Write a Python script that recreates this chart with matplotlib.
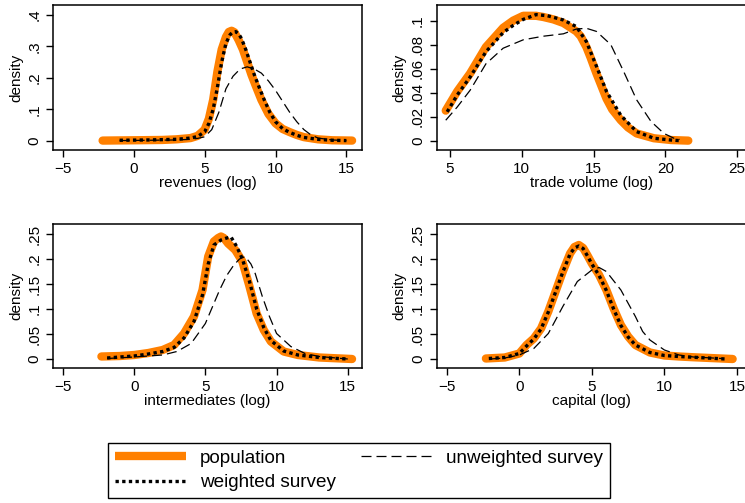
import matplotlib
matplotlib.use("Agg")
import matplotlib.pyplot as plt
from matplotlib.lines import Line2D

plt.rcParams['font.family'] = ['Liberation Sans', 'DejaVu Sans']

# ---- data ----
# revenues (log)
rev_pop_x = [-2.2, 0, 2, 3, 4, 4.5, 5, 5.3, 5.6, 5.9, 6.2, 6.5, 6.7, 6.9, 7.1, 7.4, 7.7,
             8.0, 8.3, 8.6, 9.0, 9.5, 10, 10.5, 11, 11.5, 12, 13, 14, 15.4]
rev_pop_y = [0, 0.001, 0.002, 0.004, 0.008, 0.015, 0.035, 0.07, 0.13, 0.22, 0.29, 0.33,
             0.346, 0.35, 0.345, 0.32, 0.29, 0.25, 0.21, 0.175, 0.13, 0.085, 0.055,
             0.037, 0.027, 0.018, 0.011, 0.004, 0.001, 0]
rev_w_x = [-1, 1, 3, 4, 4.5, 5, 5.3, 5.6, 5.9, 6.2, 6.5, 6.8, 7.0, 7.2, 7.4, 7.6, 7.9,
           8.2, 8.5, 8.8, 9.2, 9.6, 10, 10.5, 11, 11.5, 12, 13, 14, 15]
rev_w_y = [0.001, 0.002, 0.004, 0.008, 0.013, 0.028, 0.055, 0.1, 0.17, 0.25, 0.31, 0.338,
           0.346, 0.347, 0.34, 0.325, 0.29, 0.25, 0.21, 0.175, 0.13, 0.09, 0.06, 0.038,
           0.026, 0.017, 0.01, 0.004, 0.001, 0]
rev_u_x = [-1, 1, 3, 4, 4.5, 5, 5.5, 6, 6.5, 7, 7.5, 8, 8.5, 9, 9.5, 10, 10.5, 11,
           11.5, 12, 12.5, 13, 14, 15]
rev_u_y = [0.0, 0.001, 0.002, 0.004, 0.007, 0.012, 0.035, 0.09, 0.165, 0.205, 0.228,
           0.235, 0.228, 0.215, 0.19, 0.16, 0.125, 0.09, 0.06, 0.035, 0.018, 0.008,
           0.002, 0]

# trade volume (log)
tv_pop_x = [4.7, 5.5, 6.4, 7.5, 8.7, 9.4, 10.1, 11.0, 11.5, 12.2, 12.9, 13.8, 14.1,
            14.5, 14.8, 15.2, 15.9, 16.3, 16.9, 17.4, 18.0, 19.2, 20.4, 21.6]
tv_pop_y = [0.025, 0.041, 0.056, 0.078, 0.094, 0.1, 0.104, 0.104, 0.103, 0.101, 0.098,
            0.091, 0.087, 0.078, 0.069, 0.056, 0.035, 0.026, 0.017, 0.011, 0.006,
            0.002, 0.0005, 0]
tv_w_x = [4.8, 5.5, 6.4, 7.5, 8.7, 9.4, 10.1, 11.0, 11.8, 12.9, 13.8, 14.5, 15.2, 15.9,
          16.9, 18.0, 19.2, 20.4, 21.0]
tv_w_y = [0.024, 0.038, 0.053, 0.074, 0.090, 0.096, 0.101, 0.105, 0.104, 0.1005, 0.095,
          0.0825, 0.062, 0.041, 0.021, 0.0075, 0.002, 0.0005, 0]
tv_u_x = [4.7, 5.5, 6.4, 7.5, 8.7, 10.1, 11.5, 12.9, 13.8, 14.5, 15.2, 16.2, 17.1,
          18.0, 19.0, 19.9, 20.6, 21.0]
tv_u_y = [0.017, 0.028, 0.042, 0.064, 0.077, 0.084, 0.087, 0.089, 0.093, 0.0936, 0.091,
          0.080, 0.0575, 0.034, 0.016, 0.006, 0.002, 0.001]

# intermediates (log)
int_pop_x = [-2.3, -1, 0, 1, 2, 2.8, 3.5, 4.2, 4.8, 5.2, 5.6, 5.9, 6.1, 6.3, 6.6, 7.1,
             7.6, 8.1, 8.6, 9.1, 9.6, 10.5, 11.5, 13, 15.3]
int_pop_y = [0.005, 0.006, 0.008, 0.012, 0.018, 0.028, 0.051, 0.085, 0.138, 0.205,
             0.235, 0.242, 0.245, 0.242, 0.231, 0.218, 0.195, 0.145, 0.091, 0.058,
             0.035, 0.015, 0.008, 0.003, 0.0]
int_w_x = [-1.9, -1, 0, 1, 2, 2.8, 3.5, 4.2, 4.8, 5.2, 5.6, 6.1, 6.5, 6.8, 7.2, 7.6,
           8.1, 8.6, 9.1, 9.6, 10.5, 11.5, 13, 15]
int_w_y = [0.002, 0.004, 0.006, 0.01, 0.015, 0.023, 0.042, 0.075, 0.128, 0.19, 0.228,
           0.238, 0.242, 0.244, 0.225, 0.2, 0.155, 0.1, 0.063, 0.037, 0.016, 0.008,
           0.003, 0.0]
int_u_x = [-1.9, 0, 2, 3, 4, 5, 6, 6.5, 7, 7.4, 7.8, 8.2, 8.5, 9, 9.5, 10, 11, 12, 13, 15]
int_u_y = [0.001, 0.004, 0.008, 0.015, 0.031, 0.071, 0.138, 0.167, 0.188, 0.2, 0.205,
           0.19, 0.171, 0.125, 0.085, 0.051, 0.025, 0.011, 0.005, 0.0]

# capital (log)
cap_pop_x = [-2.3, -1, 0, 0.5, 1, 1.5, 2, 2.5, 3, 3.5, 3.8, 4.1, 4.4, 4.7, 5, 5.5, 6,
             6.5, 7, 7.5, 8, 9, 10, 11, 12, 14.7]
cap_pop_y = [0.001, 0.003, 0.011, 0.028, 0.041, 0.061, 0.095, 0.135, 0.175, 0.211,
             0.224, 0.228, 0.222, 0.207, 0.191, 0.168, 0.138, 0.101, 0.068, 0.045,
             0.028, 0.013, 0.007, 0.005, 0.0035, 0.0]
cap_w_x = [-2.1, -1, 0, 0.5, 1, 1.5, 2, 2.5, 3, 3.5, 3.8, 4.1, 4.4, 4.7, 5, 5.5, 6,
           6.5, 7, 7.5, 8, 9, 10, 11, 12, 14.2]
cap_w_y = [0.001, 0.003, 0.011, 0.026, 0.04, 0.06, 0.094, 0.134, 0.174, 0.21, 0.222,
           0.226, 0.221, 0.206, 0.19, 0.167, 0.137, 0.1, 0.067, 0.044, 0.028, 0.013,
           0.007, 0.005, 0.0035, 0.0]
cap_u_x = [-2, -1, 0, 1, 2, 3, 4, 5, 5.5, 6, 7, 8, 8.5, 9, 10, 11, 12, 14]
cap_u_y = [0.0, 0.002, 0.008, 0.021, 0.051, 0.105, 0.155, 0.178, 0.183, 0.175, 0.138,
           0.085, 0.055, 0.038, 0.018, 0.008, 0.004, 0.001]

panels = [
    ("revenues (log)", rev_pop_x, rev_pop_y, rev_w_x, rev_w_y, rev_u_x, rev_u_y,
     [-5, 0, 5, 10, 15], (-5.7, 16.1),
     [0, 0.1, 0.2, 0.3, 0.4], ["0", ".1", ".2", ".3", ".4"], (-0.03, 0.432)),
    ("trade volume (log)", tv_pop_x, tv_pop_y, tv_w_x, tv_w_y, tv_u_x, tv_u_y,
     [5, 10, 15, 20, 25], (4.07, 25.6),
     [0, 0.02, 0.04, 0.06, 0.08, 0.1], ["0", ".02", ".04", ".06", ".08", ".1"],
     (-0.0078, 0.113)),
    ("intermediates (log)", int_pop_x, int_pop_y, int_w_x, int_w_y, int_u_x, int_u_y,
     [-5, 0, 5, 10, 15], (-5.7, 16.0),
     [0, 0.05, 0.1, 0.15, 0.2, 0.25], ["0", ".05", ".1", ".15", ".2", ".25"],
     (-0.0186, 0.27)),
    ("capital (log)", cap_pop_x, cap_pop_y, cap_w_x, cap_w_y, cap_u_x, cap_u_y,
     [-5, 0, 5, 10, 15], (-5.69, 15.6),
     [0, 0.05, 0.1, 0.15, 0.2, 0.25], ["0", ".05", ".1", ".15", ".2", ".25"],
     (-0.0186, 0.27)),
]

W, H = 745, 503
fig = plt.figure(figsize=(W / 100, H / 100), dpi=100)

# axes boxes in pixels: left, top, width, height
boxes = [(53, 5, 309, 145), (436.7, 5, 309, 145),
         (53, 224, 309, 144.3), (436.7, 224, 309, 144.3)]

orange = "#ff8000"
for (lab, px, py, wx, wy, ux, uy, xt, xl, yt, ytl, yl), (l, t, w, h) in zip(panels, boxes):
    ax = fig.add_axes([l / W, 1 - (t + h) / H, w / W, h / H])
    ax.plot(px, py, color=orange, lw=6, solid_capstyle="round",
            solid_joinstyle="round", zorder=2)
    ax.plot(ux, uy, color="black", lw=0.9, linestyle=(0, (8, 4)), zorder=3)
    ax.plot(wx, wy, color="black", lw=2.4, linestyle=(0, (1, 1)),
            dash_capstyle="butt", zorder=4)
    ax.set_xlim(*xl)
    ax.set_ylim(*yl)
    ax.set_xticks(xt, labels=[str(v) if v >= 0 else "\u2212" + str(-v) for v in xt])
    ax.set_yticks(yt, labels=ytl)
    ax.tick_params(direction="out", length=5, width=1, labelsize=11, color="black")
    ax.tick_params(axis="y", labelrotation=90)
    for tl in ax.get_yticklabels():
        tl.set_va("center")
    ax.set_xlabel(lab, fontsize=11, labelpad=0)
    ax.set_ylabel("density", fontsize=11, labelpad=3)
    for s in ax.spines.values():
        s.set_linewidth(1.1)
        s.set_color("black")

handles = [
    Line2D([], [], color=orange, lw=6, solid_capstyle="butt"),
    Line2D([], [], color="black", lw=2.4, linestyle=(0, (1, 1)), dash_capstyle="butt"),
    Line2D([], [], color="black", lw=0.9, linestyle=(0, (8, 4))),
]
leg = fig.legend(handles, ["population", "weighted survey", "unweighted survey"],
                 ncol=2, loc="lower left", mode="expand",
                 bbox_to_anchor=(108 / W, 1 - 498 / H, (610 - 108) / W, (498 - 434) / H),
                 fontsize=13.6, handlelength=3.8, frameon=True, fancybox=False,
                 edgecolor="black", framealpha=1, borderpad=0.35, labelspacing=0.4,
                 handletextpad=0.7, borderaxespad=0)
leg.get_frame().set_linewidth(1)

fig.savefig("out.png", dpi=100)
